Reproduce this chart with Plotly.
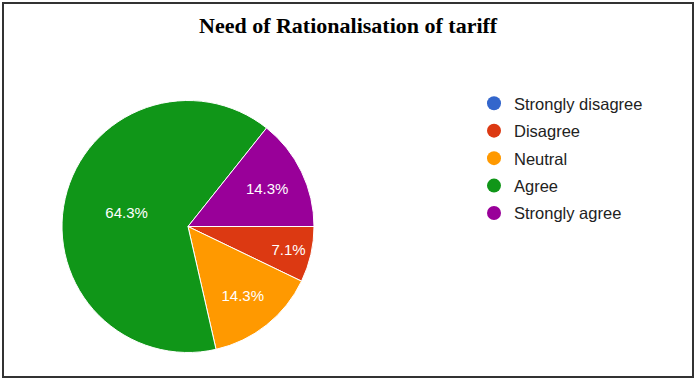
import plotly.graph_objects as go

title_text = "Need of Rationalisation of tariff"
labels = ["Strongly disagree", "Disagree", "Neutral", "Agree", "Strongly agree"]
values = [0, 1, 2, 9, 2]
colors = ["#3366cc", "#dc3912", "#ff9900", "#109618", "#990099"]

W, H = 696, 380

fig = go.Figure()
fig.add_trace(go.Pie(
    labels=labels, values=values, sort=False, direction="clockwise", rotation=90,
    marker=dict(colors=colors, line=dict(color="white", width=1)),
    textinfo="percent", texttemplate="%{percent:.1%}", textposition="inside",
    insidetextorientation="horizontal",
    textfont=dict(family="Arial, Liberation Sans", size=15, color="white"),
    domain=dict(x=[62 / W, 314 / W], y=[1 - 353 / H, 1 - 100 / H]),
    showlegend=False,
))
# legend entries with circular markers
for lab, col in zip(labels, colors):
    fig.add_trace(go.Scatter(
        x=[None], y=[None], mode="markers", name=lab, legendgroup=lab,
        marker=dict(symbol="circle", size=14, color=col),
        showlegend=True, hoverinfo="skip",
    ))
fig.update_layout(
    width=W, height=H, margin=dict(l=0, r=0, t=0, b=0),
    paper_bgcolor="white", plot_bgcolor="white",
    showlegend=True,
    xaxis=dict(visible=False), yaxis=dict(visible=False),
    legend=dict(x=474 / W, y=1 - 86 / H, xanchor="left", yanchor="top",
                font=dict(family="Arial, Liberation Sans", size=16.5, color="#222222"),
                bgcolor="rgba(0,0,0,0)", tracegroupgap=3, itemwidth=30),
    annotations=[dict(text="<b>" + title_text + "</b>", x=0.5, y=1 - 26 / H, xref="paper", yref="paper",
                      xanchor="center", yanchor="middle", showarrow=False,
                      font=dict(family="Liberation Serif, Times New Roman", size=22, color="black"))],
    shapes=[dict(type="rect", xref="paper", yref="paper", x0=3 / W, x1=1 - 3 / W, y0=3 / H, y1=1 - 3 / H,
                 line=dict(color="#333333", width=2))],
)
fig.write_html("out.html", config={"displayModeBar": False},
               post_script="document.body.style.margin='0';document.body.style.overflow='hidden';")
